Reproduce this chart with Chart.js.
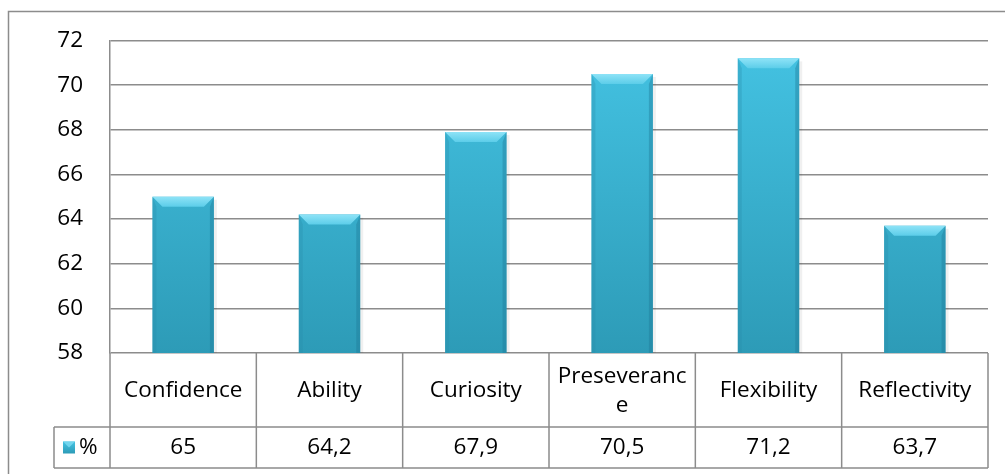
<!DOCTYPE html>
<html>
<head>
<meta charset="utf-8">
<script src="https://cdn.jsdelivr.net/npm/chart.js@4/dist/chart.umd.min.js"></script>
<style>
  body { margin: 0; background: #fff; }
  canvas { display: block; }
</style>
</head>
<body>
<canvas id="chart" width="1005" height="474"></canvas>
<script>
// chart data
const categories = ['Confidence', 'Ability', 'Curiosity', ['Preseveranc', 'e'], 'Flexibility', 'Reflectivity'];
const percentValues = [65, 64.2, 67.9, 70.5, 71.2, 63.7];
const seriesName = '%';
const yTicks = [58, 60, 62, 64, 66, 68, 70, 72];

const FONT = '"Open Sans", "Noto Sans", sans-serif';
const GRID = '#8c8c8c';

function fmt(v) {
  return String(v).replace('.', ',');
}

function faceGradient(ctx, top, bottom) {
  const g = ctx.createLinearGradient(0, top, 0, bottom);
  g.addColorStop(0, '#44c3e3');
  g.addColorStop(1, '#2d9bb7');
  return g;
}

// frame round the whole chart
const framePlugin = {
  id: 'frame',
  beforeDraw(chart) {
    const ctx = chart.ctx;
    ctx.save();
    ctx.strokeStyle = GRID;
    ctx.lineWidth = 1.5;
    ctx.strokeRect(8.5, 11.5, 1100, 600);
    ctx.restore();
  }
};

// bevel on the bars, like the excel look
const bevelPlugin = {
  id: 'bevel',
  afterDatasetsDraw(chart) {
    const ctx = chart.ctx;
    const area = chart.chartArea;
    const meta = chart.getDatasetMeta(0);
    ctx.save();
    meta.data.forEach(bar => {
      const l = bar.x - bar.width / 2;
      const r = bar.x + bar.width / 2;
      const t = bar.y;
      const b = Math.min(bar.base, area.bottom);
      const s = 10;

      // top bevel
      const tg = ctx.createLinearGradient(0, t, 0, t + s);
      tg.addColorStop(0, '#8ee3f7');
      tg.addColorStop(1, '#5ccde9');
      ctx.fillStyle = tg;
      ctx.beginPath();
      ctx.moveTo(l, t);
      ctx.lineTo(r, t);
      ctx.lineTo(r - s, t + s);
      ctx.lineTo(l + s, t + s);
      ctx.closePath();
      ctx.fill();

      // left edge
      ctx.fillStyle = 'rgba(40,140,170,0.3)';
      ctx.beginPath();
      ctx.moveTo(l, t);
      ctx.lineTo(l + 4, t + s);
      ctx.lineTo(l + 4, b);
      ctx.lineTo(l, b);
      ctx.closePath();
      ctx.fill();

      // right edge
      ctx.fillStyle = 'rgba(30,120,150,0.4)';
      ctx.beginPath();
      ctx.moveTo(r, t);
      ctx.lineTo(r - 4, t + s);
      ctx.lineTo(r - 4, b);
      ctx.lineTo(r, b);
      ctx.closePath();
      ctx.fill();

      // soft shadow on the right
      ctx.fillStyle = 'rgba(0,0,0,0.06)';
      ctx.fillRect(r, t + 3, 3, b - t - 3);
    });
    ctx.restore();
  }
};

// data table under the plot
const tablePlugin = {
  id: 'dataTable',
  afterDraw(chart) {
    const ctx = chart.ctx;
    const area = chart.chartArea;
    const n = categories.length;
    const colW = (area.right - area.left) / n;
    const rowTop = area.bottom;
    const row1 = 427;
    const row2 = 468;
    const legendLeft = 54;

    ctx.save();
    ctx.strokeStyle = GRID;
    ctx.lineWidth = 1.5;
    ctx.beginPath();
    ctx.moveTo(legendLeft, row1);
    ctx.lineTo(area.right, row1);
    ctx.moveTo(legendLeft, row2);
    ctx.lineTo(area.right, row2);
    ctx.moveTo(legendLeft, row1);
    ctx.lineTo(legendLeft, row2);
    for (let i = 0; i <= n; i++) {
      const x = area.left + i * colW;
      ctx.moveTo(x, rowTop);
      ctx.lineTo(x, row2);
    }
    ctx.stroke();

    ctx.fillStyle = '#000';
    ctx.font = '22.5px ' + FONT;
    ctx.textAlign = 'center';
    ctx.textBaseline = 'middle';
    for (let i = 0; i < n; i++) {
      const cx = chart.scales.x.getPixelForValue(i);
      const lab = Array.isArray(categories[i]) ? categories[i] : [categories[i]];
      const lh = 29;
      const y0 = (rowTop + row1) / 2 + 1 - (lab.length - 1) * lh / 2;
      lab.forEach((line, k) => ctx.fillText(line, cx, y0 + k * lh));
      ctx.fillText(fmt(percentValues[i]), cx, (row1 + row2) / 2);
    }

    // legend key
    const ky = (row1 + row2) / 2;
    ctx.fillStyle = faceGradient(ctx, ky - 6, ky + 6);
    ctx.fillRect(63, ky - 6, 12, 12);
    ctx.fillStyle = 'rgba(120,215,240,0.9)';
    ctx.beginPath();
    ctx.moveTo(63, ky - 6);
    ctx.lineTo(75, ky - 6);
    ctx.lineTo(69, ky);
    ctx.closePath();
    ctx.fill();
    ctx.fillStyle = '#000';
    ctx.textAlign = 'left';
    ctx.fillText(seriesName, 79, ky);
    ctx.restore();
  }
};

new Chart(document.getElementById('chart'), {
  type: 'bar',
  data: {
    labels: categories,
    datasets: [{
      label: seriesName,
      data: percentValues,
      backgroundColor: c => {
        const a = c.chart.chartArea;
        if (!a) return '#39b0d0';
        return faceGradient(c.chart.ctx, a.top, a.bottom);
      },
      borderWidth: 0,
      barPercentage: 0.42,
      categoryPercentage: 1
    }]
  },
  options: {
    responsive: false,
    devicePixelRatio: 1,
    animation: false,
    layout: { padding: { left: 0, top: 32, right: 17, bottom: 121 } },
    plugins: {
      legend: { display: false },
      tooltip: { enabled: false }
    },
    scales: {
      x: { display: false },
      y: {
        min: yTicks[0],
        max: yTicks[yTicks.length - 1],
        afterBuildTicks: axis => { axis.ticks = yTicks.map(v => ({ value: v })); },
        afterFit: axis => { axis.width = 110; },
        ticks: {
          color: '#000',
          font: { family: FONT, size: 22.5 },
          padding: 27
        },
        grid: { color: GRID, lineWidth: 1.5, drawTicks: false },
        border: { color: GRID, width: 1.5 }
      }
    }
  },
  plugins: [framePlugin, bevelPlugin, tablePlugin]
});
</script>
</body>
</html>
